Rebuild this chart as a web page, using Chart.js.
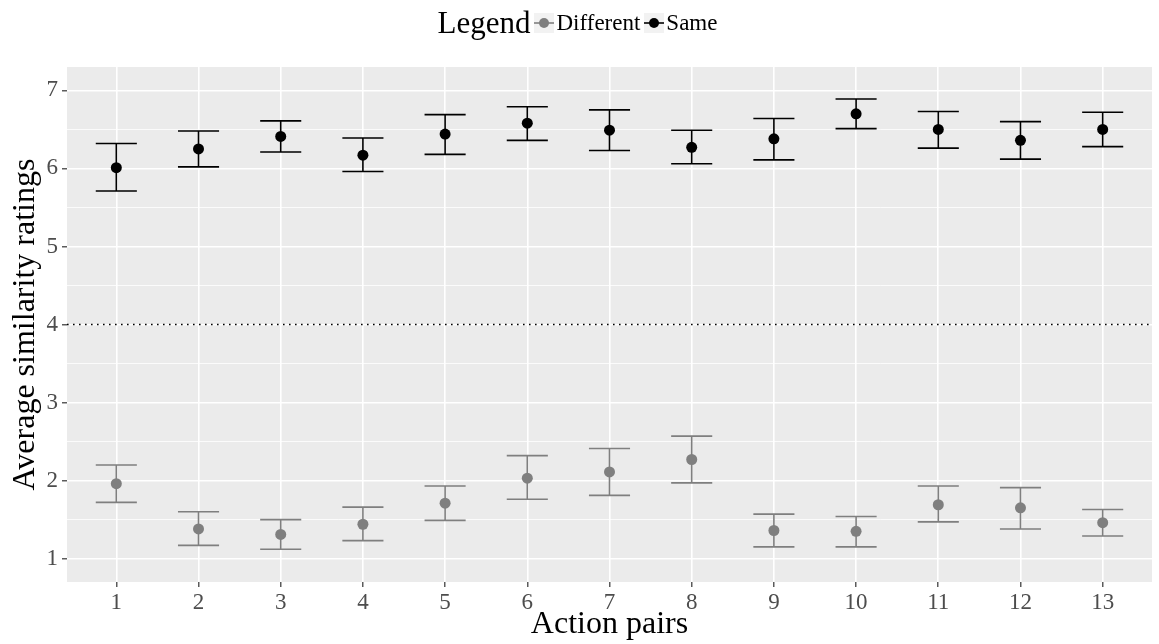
<!DOCTYPE html>
<html>
<head>
<meta charset="utf-8">
<title>Average similarity ratings</title>
<script src="https://cdn.jsdelivr.net/npm/chart.js@4/dist/chart.umd.min.js"></script>
<style>
  html, body { margin: 0; padding: 0; background: #fff; }
  #wrap { position: relative; width: 1159px; height: 644px; }
  #legend {
    position: absolute; top: 0; left: 0; width: 1159px; height: 46px;
    display: flex; align-items: center; justify-content: center;
    font-family: "Liberation Serif", "DejaVu Serif", serif; color: #000;
  }
  #legend .title { font-size: 31px; margin-right: 4px; }
  #legend .item { display: flex; align-items: center; font-size: 23px; margin-right: 4px; }
  #legend svg { margin-right: 2px; }
</style>
</head>
<body>
<div id="wrap">
  <div id="legend"></div>
  <canvas id="chart" width="1159" height="644"></canvas>
</div>
<script>
// data
const categories = [1, 2, 3, 4, 5, 6, 7, 8, 9, 10, 11, 12, 13];

const diffMean = [1.96, 1.38, 1.31, 1.44, 1.71, 2.03, 2.11, 2.27, 1.36, 1.35, 1.69, 1.65, 1.46];
const diffLow  = [1.72, 1.17, 1.12, 1.23, 1.49, 1.76, 1.81, 1.97, 1.15, 1.15, 1.47, 1.38, 1.29];
const diffHigh = [2.20, 1.60, 1.50, 1.66, 1.93, 2.32, 2.41, 2.57, 1.57, 1.54, 1.93, 1.91, 1.63];

const sameMean = [6.01, 6.25, 6.41, 6.17, 6.44, 6.58, 6.49, 6.27, 6.38, 6.70, 6.50, 6.36, 6.50];
const sameLow  = [5.71, 6.02, 6.21, 5.96, 6.18, 6.36, 6.23, 6.06, 6.11, 6.51, 6.26, 6.12, 6.28];
const sameHigh = [6.32, 6.48, 6.61, 6.39, 6.69, 6.79, 6.75, 6.49, 6.64, 6.89, 6.73, 6.60, 6.72];

const seriesNames = ['Different', 'Same'];
const seriesColors = ['#7F7F7F', '#000000'];

const yTicks = [1, 2, 3, 4, 5, 6, 7];
const yMinorTicks = [1.5, 2.5, 3.5, 4.5, 5.5, 6.5];
const refLine = 4;

const FONT = '"Liberation Serif", "DejaVu Serif", serif';
const capHalf = 0.25;

// html legend, same look as ggplot's key
const legendEl = document.getElementById('legend');
legendEl.innerHTML = '<span class="title">Legend</span>' + seriesNames.map((name, i) =>
  '<span class="item"><svg width="20" height="20">' +
  '<rect width="20" height="20" fill="#F2F2F2"/>' +
  '<line x1="0" y1="10" x2="20" y2="10" stroke="' + seriesColors[i] + '" stroke-width="1.6"/>' +
  '<circle cx="10" cy="10" r="5" fill="' + seriesColors[i] + '"/></svg>' + name + '</span>'
).join('');

const panelBg = {
  id: 'panelBg',
  beforeDraw(chart) {
    const { ctx, chartArea: a } = chart;
    ctx.save();
    ctx.fillStyle = '#EBEBEB';
    ctx.fillRect(a.left, a.top, a.right - a.left, a.bottom - a.top);
    ctx.restore();
  }
};

const errorBars = {
  id: 'errorBars',
  beforeDatasetsDraw(chart) {
    const { ctx, chartArea: a, scales: { x, y } } = chart;
    ctx.save();
    // dotted reference line at 4
    ctx.strokeStyle = '#000';
    ctx.lineWidth = 1.6;
    ctx.setLineDash([1.6, 4.4]);
    ctx.beginPath();
    const yr = y.getPixelForValue(refLine);
    ctx.moveTo(a.left, yr);
    ctx.lineTo(a.right, yr);
    ctx.stroke();
    ctx.setLineDash([]);

    chart.data.datasets.forEach(ds => {
      ctx.strokeStyle = ds.borderColor;
      ctx.lineWidth = 1.6;
      ds.errLow.forEach((lo, i) => {
        const c = categories[i];
        const xc = x.getPixelForValue(c);
        const x0 = x.getPixelForValue(c - capHalf);
        const x1 = x.getPixelForValue(c + capHalf);
        const y0 = y.getPixelForValue(lo);
        const y1 = y.getPixelForValue(ds.errHigh[i]);
        ctx.beginPath();
        ctx.moveTo(xc, y0); ctx.lineTo(xc, y1);
        ctx.moveTo(x0, y0); ctx.lineTo(x1, y0);
        ctx.moveTo(x0, y1); ctx.lineTo(x1, y1);
        ctx.stroke();
      });
    });
    ctx.restore();
  }
};

function makeSet(i, mean, low, high) {
  return {
    label: seriesNames[i],
    data: categories.map((c, k) => ({ x: c, y: mean[k] })),
    errLow: low,
    errHigh: high,
    backgroundColor: seriesColors[i],
    borderColor: seriesColors[i],
    pointRadius: 5.5,
    pointBorderWidth: 0,
    showLine: false
  };
}

new Chart(document.getElementById('chart'), {
  type: 'scatter',
  data: {
    datasets: [
      makeSet(0, diffMean, diffLow, diffHigh),
      makeSet(1, sameMean, sameLow, sameHigh)
    ]
  },
  plugins: [panelBg, errorBars],
  options: {
    responsive: false,
    animation: false,
    devicePixelRatio: 1,
    layout: { padding: { top: 67, right: 7, left: 0, bottom: 0 } },
    plugins: { legend: { display: false }, tooltip: { enabled: false } },
    scales: {
      x: {
        type: 'linear',
        min: 0.4,
        max: 13.6,
        afterBuildTicks: s => { s.ticks = categories.map(v => ({ value: v })); },
        afterFit: s => { s.height = 62; },
        border: { display: false },
        grid: { color: '#FFFFFF', lineWidth: 1.6, tickColor: '#333333', tickLength: 5, tickWidth: 1.2 },
        ticks: { color: '#4D4D4D', font: { family: FONT, size: 23 }, padding: 2, autoSkip: false, maxRotation: 0 },
        title: { display: true, text: 'Action pairs', color: '#000', font: { family: FONT, size: 32 }, padding: { top: -4, bottom: 0 } }
      },
      y: {
        type: 'linear',
        min: 0.7,
        max: 7.3,
        afterBuildTicks: s => {
          s.ticks = yTicks.concat(yMinorTicks).sort((a, b) => a - b).map(v => ({ value: v }));
        },
        afterFit: s => { s.width = 67; },
        border: { display: false },
        grid: {
          color: '#FFFFFF',
          lineWidth: c => (c.tick && yTicks.includes(c.tick.value)) ? 1.6 : 0.8,
          tickColor: c => (c.tick && yTicks.includes(c.tick.value)) ? '#333333' : 'rgba(0,0,0,0)',
          tickLength: 5,
          tickWidth: 1.2
        },
        ticks: {
          color: '#4D4D4D',
          font: { family: FONT, size: 23 },
          padding: 4,
          autoSkip: false,
          callback: v => yTicks.includes(v) ? String(v) : ''
        },
        title: { display: true, text: 'Average similarity ratings', color: '#000', font: { family: FONT, size: 32 }, padding: { top: 6, bottom: 0 } }
      }
    }
  }
});
</script>
</body>
</html>
